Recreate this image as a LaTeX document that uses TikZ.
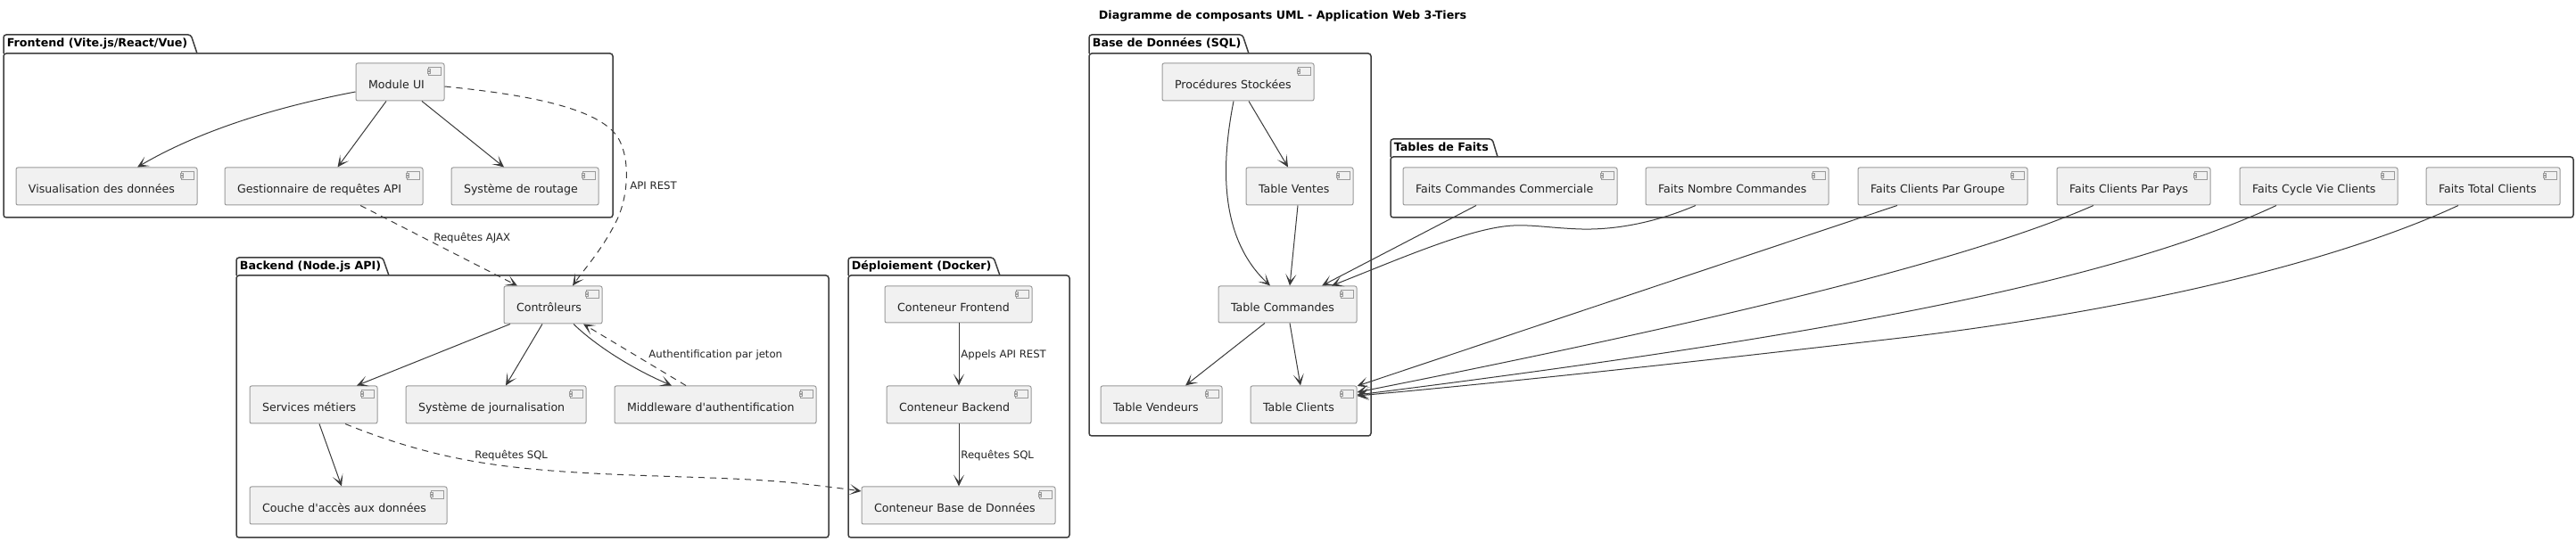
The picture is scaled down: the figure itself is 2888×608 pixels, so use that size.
\documentclass[tikz,border=0pt]{standalone}
\usepackage{fontspec}
\setmainfont{DejaVu Sans}[Ligatures=TeXOff]
\usetikzlibrary{arrows.meta}
\definecolor{boxfill}{HTML}{F1F1F1}
\definecolor{boxline}{HTML}{9A9A9A}
\definecolor{inkline}{HTML}{3A3A3A}
\definecolor{pkgline}{HTML}{3C3C3C}
\definecolor{inktext}{HTML}{222222}
\tikzset{
  compbox/.style={draw=boxline,fill=boxfill,line width=0.5pt,rounded corners=1pt,inner xsep=7pt,inner ysep=0pt,
    text height=8pt,text depth=0pt,align=left,text=inktext,font=\fontsize{6.3}{8}\selectfont},
  iconline/.style={draw=boxline,fill=boxfill,line width=0.4pt},
  pkgframe/.style={draw=pkgline,line width=0.75pt,rounded corners=1.5pt},
  pkglabel/.style={anchor=base west,inner sep=0pt,text=black,font=\fontsize{6.33}{8}\selectfont\bfseries},
  flow/.style={draw=inkline,line width=0.5pt,-{Stealth[length=6.5pt,width=6pt,inset=3.8pt]}},
  dep/.style={flow,dash pattern=on 3.6pt off 2.9pt},
  edgelabel/.style={anchor=base west,inner sep=0pt,text=inktext,font=\fontsize{5.85}{8}\selectfont}
}
\newcommand{\comp}[6]{%
  \pgfmathsetlengthmacro{\cw}{(#4-#2)*0.5pt}%
  \pgfmathsetlengthmacro{\ch}{(#5-#3)*0.5pt}%
  \pgfmathsetlengthmacro{\ct}{(#4-#2)*0.5pt-14pt}%
  \node[compbox,minimum height=\ch,text width=\ct] (#1) at ({(#2+#4)/2},{(#3+#5)/2}) {#6};
  \path[iconline] ([xshift=-9pt,yshift=-2.5pt]#1.north east) rectangle ([xshift=-2pt,yshift=-7.2pt]#1.north east);
  \path[iconline] ([xshift=-9.8pt,yshift=-3.6pt]#1.north east) rectangle ([xshift=-8.2pt,yshift=-4.6pt]#1.north east);
  \path[iconline] ([xshift=-9.8pt,yshift=-5.2pt]#1.north east) rectangle ([xshift=-8.2pt,yshift=-6.2pt]#1.north east);
}
% name, x1, tab top, header y, x2, bottom, tab top right, tab bottom right, label
\newcommand{\pkg}[9]{%
  \draw[pkgframe] (#2,#4) -- (#2,#3) -- (#7,#3) -- (#8,#4);
  \draw[pkgframe] (#2,#4) -- (#5,#4) -- (#5,#6) -- (#2,#6) -- cycle;
  \node[pkglabel] (#1) at (#2+3.5,#3+14) {#9};
}
\begin{document}
\begin{tikzpicture}[x=0.5pt,y=-0.5pt]
\useasboundingbox (0,0) rectangle (2888,608);
\node[anchor=base,inner sep=0pt,font=\fontsize{6.33}{9}\selectfont\bfseries] (title) at (1438,21.5) {Diagramme de composants UML - Application Web 3-Tiers};

\pkg{pfront}{4}{39}{60}{687}{244}{214}{221}{Frontend (Vite.js/React/Vue)}
\pkg{pback}{265}{289}{309}{929}{603}{429}{436}{Backend (Node.js API)}
\pkg{pdeploy}{951}{289}{309}{1199}{603}{1114}{1121}{Déploiement (Docker)}
\pkg{pbase}{1221}{39}{60}{1537}{489}{1393}{1400}{Base de Données (SQL)}
\pkg{pfaits}{1559}{156}{176}{2885}{244}{1673}{1679}{Tables de Faits}

\comp{ui}{399}{71}{498}{113}{Module UI}
\comp{vis}{18}{188}{221}{230}{Visualisation des données}
\comp{gest}{252}{188}{474}{230}{Gestionnaire de requêtes API}
\comp{rout}{506}{188}{671}{230}{Système de routage}

\comp{ctrl}{565}{321}{675}{363}{Contrôleurs}
\comp{serv}{280}{433}{423}{475}{Services métiers}
\comp{jour}{455}{433}{657}{475}{Système de journalisation}
\comp{midd}{689}{433}{915}{475}{Middleware d'authentification}
\comp{dao}{280}{546}{501}{588}{Couche d'accès aux données}

\comp{cfront}{992}{321}{1157}{362}{Conteneur Frontend}
\comp{cback}{994}{433}{1156}{475}{Conteneur Backend}
\comp{cbase}{966}{546}{1183}{588}{Conteneur Base de Données}

\comp{proc}{1303}{71}{1473}{113}{Procédures Stockées}
\comp{vent}{1397}{188}{1517}{230}{Table Ventes}
\comp{cmd}{1366}{321}{1521}{362}{Table Commandes}
\comp{vend}{1234}{433}{1370}{475}{Table Vendeurs}
\comp{clie}{1402}{433}{1521}{475}{Table Clients}

\comp{fcc}{1573}{188}{1813}{230}{Faits Commandes Commerciale}
\comp{fnc}{1845}{188}{2050}{230}{Faits Nombre Commandes}
\comp{fcg}{2083}{188}{2273}{230}{Faits Clients Par Groupe}
\comp{fcp}{2306}{188}{2478}{230}{Faits Clients Par Pays}
\comp{fcv}{2511}{188}{2688}{230}{Faits Cycle Vie Clients}
\comp{ftc}{2720}{188}{2870}{230}{Faits Total Clients}

% Frontend
\draw[flow] (ui.west |- 0,103) .. controls (320,118) and (230,143) .. (vis.north -| 154,0);
\draw[flow] (ui.south -| 433,0) -- (gest.north -| 378.5,0);
\draw[flow] (ui.south -| 473,0) -- (rout.north -| 565,0);
\draw[dep] (ui.east |- 0,97) .. controls (590,106) and (660,120) .. (687,147) .. controls (708,168) and (706,220) .. (690,250) .. controls (675,280) and (655,302) .. (ctrl.north -| 642,0);
\draw[dep] (gest.south -| 404,0) -- (ctrl.north -| 580,0);
\node[edgelabel] (lrest) at (706,213) {API REST};
\node[edgelabel] (lajax) at (486,271) {Requêtes AJAX};

% Backend
\draw[flow] (ctrl.south -| 572,0) -- (serv.north -| 400,0);
\draw[flow] (ctrl.south -| 608,0) -- (jour.north -| 567,0);
\draw[flow] (ctrl.south -| 643,0) .. controls (665,385) and (705,412) .. (midd.north -| 753,0);
\draw[dep] (midd.north -| 769,0) -- (ctrl.south -| 654,0);
\draw[flow] (serv.south -| 358,0) -- (dao.north -| 383,0);
\draw[dep] (serv.south -| 387,0) .. controls (440,497) and (490,511) .. (540,519) .. controls (650,537) and (800,532) .. (893,542) .. controls (920,545) and (945,548) .. (cbase.west |- 0,551);
\node[edgelabel] (lauth) at (727,402) {Authentification par jeton};
\node[edgelabel] (lsql) at (532,515) {Requêtes SQL};

% Deploiement
\draw[flow] (cfront.south -| 1075,0) -- (cback.north -| 1075,0);
\draw[flow] (cback.south -| 1075,0) -- (cbase.north -| 1075,0);
\node[edgelabel] (lappels) at (1077,402) {Appels API REST};
\node[edgelabel] (lsql2) at (1077,515) {Requêtes SQL};

% Base
\draw[flow] (proc.south -| 1400,0) -- (vent.north -| 1444,0);
\draw[flow] (proc.south -| 1383,0) .. controls (1370,180) and (1365,265) .. (cmd.north -| 1424,0);
\draw[flow] (vent.south -| 1455,0) -- (cmd.north -| 1446,0);
\draw[flow] (cmd.south -| 1418,0) -- (vend.north -| 1329,0);
\draw[flow] (cmd.south -| 1446,0) -- (clie.north -| 1458,0);

% Faits
\draw[flow] (fcc.south -| 1655,0) -- (cmd.north -| 1482,0);
\draw[flow] (fnc.south -| 1901,0) .. controls (1860,248) and (1815,258) .. (1773,257) .. controls (1740,256) and (1720,252) .. (1697,253) .. controls (1650,255) and (1570,290) .. (cmd.north -| 1493,0);
\draw[flow] (fcg.south -| 2127,0) -- (clie.east |- 0,433);
\draw[flow] (fcp.south -| 2347,0) .. controls (2200,295) and (1900,365) .. (clie.east |- 0,440);
\draw[flow] (fcv.south -| 2552,0) .. controls (2350,325) and (1980,385) .. (clie.east |- 0,443);
\draw[flow] (ftc.south -| 2756,0) .. controls (2650,280) and (2450,340) .. (2140,378) .. controls (1950,400) and (1730,425) .. (clie.east |- 0,444);
\end{tikzpicture}
\end{document}
